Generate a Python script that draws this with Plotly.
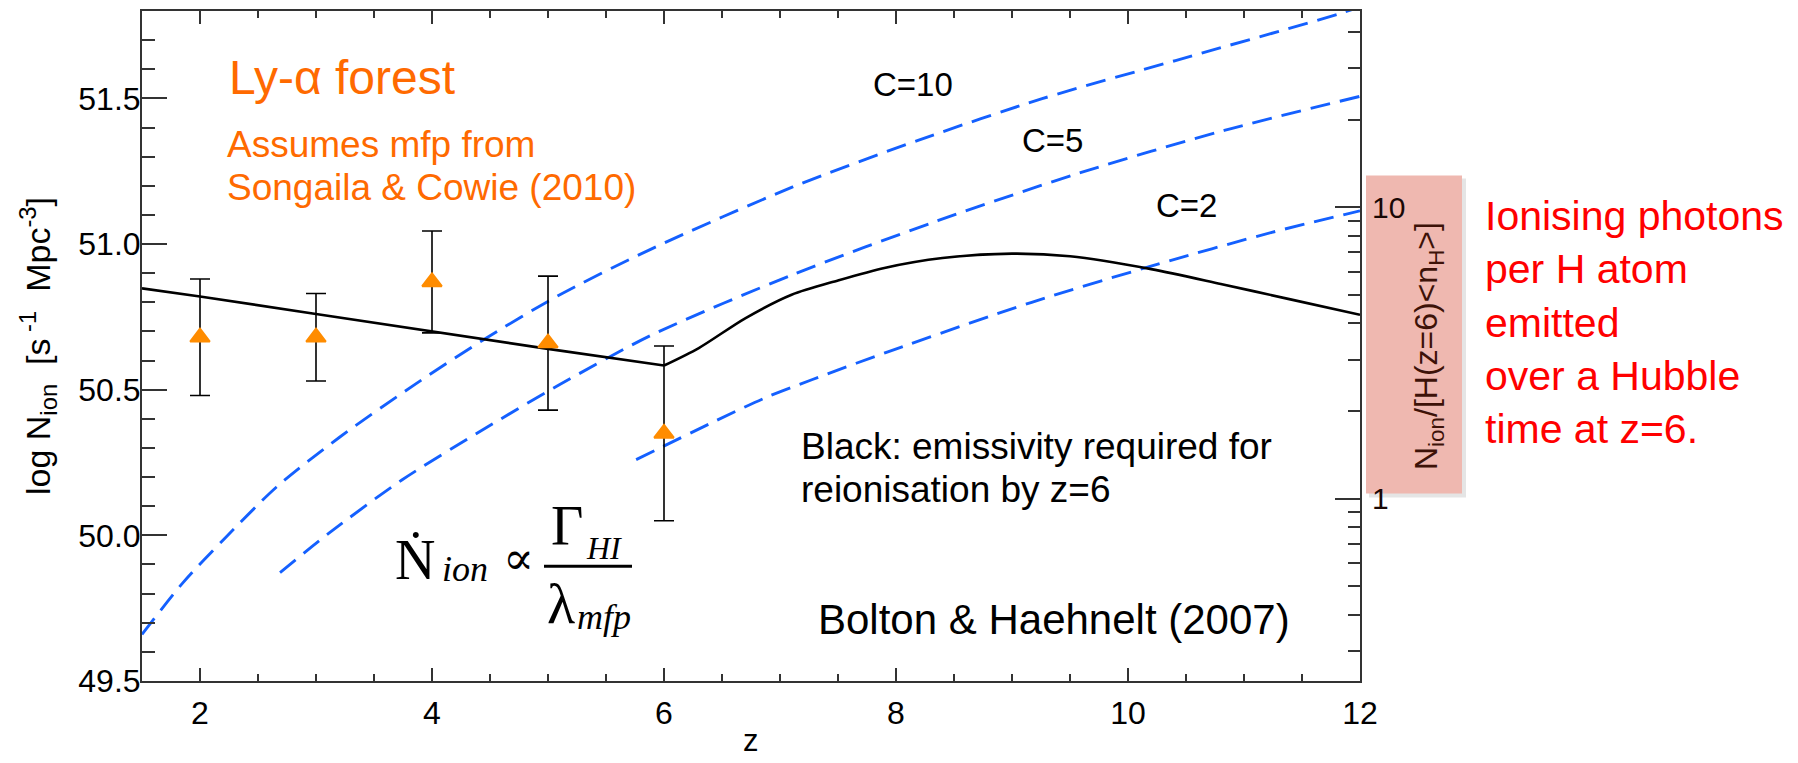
import plotly.graph_objects as go

# ---------------- data ----------------
obs_z = [2, 3, 4, 5, 6]
obs_logN = [50.68, 50.68, 50.87, 50.66, 50.35]
obs_err = [0.20, 0.15, 0.175, 0.23, 0.30]

model_z = [1.5, 2.0, 3.0, 4.0, 5.0, 6.0, 6.3, 6.7, 7.1, 7.5, 7.9, 8.4, 9.0, 9.5, 10.2, 10.8, 11.4, 12.0]
model_logN = [50.848, 50.82, 50.76, 50.70, 50.64, 50.583, 50.643, 50.745, 50.826, 50.875, 50.918,
              50.952, 50.967, 50.958, 50.914, 50.863, 50.81, 50.757]

c10_z = [1.5, 1.85, 2.2, 2.66, 3.2, 3.86, 4.43, 5.08, 5.88, 7.11, 8.19, 9.26, 10.41, 11.82, 12.0]
c10_logN = [49.66, 49.836, 49.984, 50.166, 50.336, 50.52, 50.668, 50.821, 50.981, 51.196,
            51.356, 51.499, 51.63, 51.79, 51.815]

c5_z = [2.69, 3.12, 3.74, 4.47, 5.09, 5.88, 7.11, 8.36, 9.59, 10.83, 12.0]
c5_logN = [49.872, 50.01, 50.19, 50.37, 50.515, 50.685, 50.895, 51.08, 51.245, 51.39, 51.507]

c2_z = [5.76, 6.86, 7.28, 7.93, 9.17, 10.25, 11.24, 12.0]
c2_logN = [50.26, 50.47, 50.535, 50.63, 50.8, 50.93, 51.04, 51.114]

x_ticks = [2, 4, 6, 8, 10, 12]
y_ticks = [49.5, 50.0, 50.5, 51.0, 51.5]
y2_ticks = [1, 10]
y2_minor = [0.3, 0.4, 0.5, 0.6, 0.7, 0.8, 0.9, 2, 3, 4, 5, 6, 7, 8, 9, 20, 30, 40]

curve_labels = ["C=10", "C=5", "C=2"]

# ---------------- layout helpers ----------------
W, H = 1798, 763
L, R, T, B = 142, 1360, 9, 681


def px(x):
    return (x - L) / (R - L)


def py(y):
    return (B - y) / (B - T)


SANS = "Liberation Sans, Arial, Helvetica, sans-serif"
SERIF = "Liberation Serif, Times New Roman, DejaVu Serif, serif"
BLUE = "#1460FF"
ORANGE_TXT = "#FF6A00"
ORANGE_MK = "#FF8C00"
AX = "#333333"

fig = go.Figure()

dash = "20px,10px"
for zz, vv in [(c10_z, c10_logN), (c5_z, c5_logN), (c2_z, c2_logN)]:
    fig.add_trace(go.Scatter(x=zz, y=vv, mode="lines",
                             line=dict(color=BLUE, width=2.9, dash=dash, shape="spline",
                                       smoothing=0.8),
                             showlegend=False, hoverinfo="skip"))

k = model_z.index(6.0)
fig.add_trace(go.Scatter(x=model_z[:k + 1], y=model_logN[:k + 1], mode="lines",
                         line=dict(color="black", width=2.6),
                         showlegend=False, hoverinfo="skip"))
fig.add_trace(go.Scatter(x=model_z[k:], y=model_logN[k:], mode="lines",
                         line=dict(color="black", width=2.6, shape="spline", smoothing=0.8),
                         showlegend=False, hoverinfo="skip"))

fig.add_trace(go.Scatter(x=obs_z, y=obs_logN, mode="markers",
                         marker=dict(symbol="triangle-up", size=17, color=ORANGE_MK,
                                     line=dict(color=ORANGE_MK, width=2)),
                         error_y=dict(type="data", array=obs_err, visible=True,
                                      color="black", thickness=1.6, width=10),
                         showlegend=False))

# invisible trace to activate y2
fig.add_trace(go.Scatter(x=[None], y=[None], yaxis="y2", showlegend=False))

fig.update_layout(
    width=W, height=H,
    margin=dict(l=L, r=W - R, t=T, b=H - B),
    paper_bgcolor="white", plot_bgcolor="white",
    font=dict(family=SANS, color="black", size=32),
    xaxis=dict(range=[1.5, 12], tickvals=x_ticks, ticks="inside", ticklen=13, tickwidth=2,
               tickcolor=AX, showline=True, linecolor=AX, linewidth=2, mirror="ticks",
               showgrid=False, zeroline=False, tickfont=dict(size=32),
               ticklabelstandoff=3,
               minor=dict(dtick=0.5, tick0=0, ticks="inside", ticklen=7, tickwidth=2,
                          tickcolor=AX, showgrid=False)),
    yaxis=dict(range=[49.5, 51.8], tickvals=y_ticks, tickformat=".1f", ticks="inside",
               ticklen=25, tickwidth=2, tickcolor=AX, showline=True, linecolor=AX,
               linewidth=2, mirror=True, showgrid=False, zeroline=False,
               tickfont=dict(size=32), ticklabelstandoff=-7,
               minor=dict(dtick=0.1, tick0=0, ticks="inside", ticklen=13, tickwidth=2,
                          tickcolor=AX, showgrid=False)),
    yaxis2=dict(overlaying="y", side="right", type="log", range=[-0.626, 1.674],
                tickvals=y2_ticks, ticktext=["1", "10"], ticks="inside", ticklen=25,
                tickwidth=2, tickcolor=AX, showline=True, linecolor=AX, linewidth=2,
                showgrid=False, zeroline=False, tickfont=dict(size=30, color="#1a0805"),
                ticklabelstandoff=4,
                minor=dict(tickvals=y2_minor, ticks="inside", ticklen=12, tickwidth=2,
                           tickcolor=AX, showgrid=False)),
)

# pink box behind right axis title (with soft shadow)
fig.add_shape(type="rect", xref="paper", yref="paper",
              x0=px(1369), x1=px(1466), y0=py(497), y1=py(177),
              fillcolor="rgba(0,0,0,0.10)", line=dict(width=0), layer="below")
fig.add_shape(type="rect", xref="paper", yref="paper",
              x0=px(1366), x1=px(1462), y0=py(493), y1=py(174),
              fillcolor="#EFB8B0", line=dict(width=0), layer="below")

# fraction bar of the formula
fig.add_shape(type="line", xref="paper", yref="paper",
              x0=px(544), x1=px(632), y0=py(566), y1=py(566),
              line=dict(color="black", width=3))


def ann(text, x, y, size, color="black", xanchor="left", yanchor="middle",
        family=SANS, angle=0):
    fig.add_annotation(text=text, x=px(x), y=py(y), xref="paper", yref="paper",
                       xanchor=xanchor, yanchor=yanchor, showarrow=False,
                       textangle=angle, align="left",
                       font=dict(size=size, color=color, family=family))


# axis titles
ann("z", 751, 741, 31, xanchor="center")
ann("log N<sub>ion</sub>  [s<sup> -1</sup>  Mpc<sup>-3</sup>]", 38, 345, 34,
    xanchor="center", angle=-90)
ann("N<sub>ion</sub>/[H(z=6)&lt;n<sub>H</sub>&gt;]", 1428, 345, 32, color="#3d1208",
    xanchor="center", angle=-90)

# texts in orange
ann("Ly-α forest", 227, 76, 48, color=ORANGE_TXT)
ann("Assumes mfp from", 225, 143, 37, color=ORANGE_TXT)
ann("Songaila &amp; Cowie (2010)", 225, 186, 37, color=ORANGE_TXT)

# curve labels
for lab, (cx, cy) in zip(curve_labels, [(913, 83), (1052, 139), (1186, 204)]):
    ann(lab, cx, cy, 33, xanchor="center")

ann("Black: emissivity required for", 799, 446, 37)
ann("reionisation by z=6", 799, 489, 37)
ann("Bolton &amp; Haehnelt (2007)", 816, 619, 42)

# formula
ann("Ṅ", 415, 560, 56, xanchor="center", family=SERIF)
ann("<i>ion</i>", 440, 569, 36, family=SERIF)
ann("∝", 518, 558, 46, xanchor="center", family=SERIF)
ann("Γ", 567, 526, 56, xanchor="center", family=SERIF)
ann("<i>HI</i>", 584, 548, 32, family=SERIF)
ann("λ", 561, 603, 58, xanchor="center", family=SERIF)
ann("<i>mfp</i>", 575, 617, 36, family=SERIF)

# red side note
ann("Ionising photons<br>per H atom<br>emitted<br>over a Hubble<br>time at z=6.",
    1483, 321, 41, color="#FF0000")

fig.write_html("out.html")
